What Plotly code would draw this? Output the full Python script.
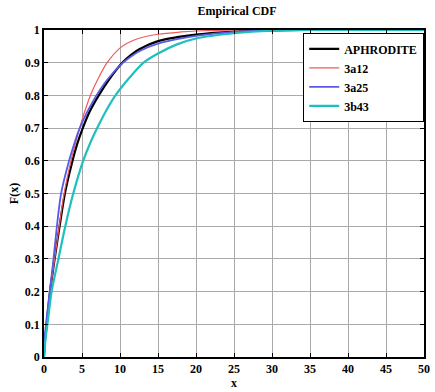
import plotly.graph_objects as go

# Values (x, F(x))
aph_x = [0, 0.12, 0.35, 0.8, 1.4, 2.05, 2.75, 3.75, 4.35, 5.1, 6.0, 7.2, 8.6, 10.3, 11.5, 12.6, 15, 17.5, 20, 25, 30, 35, 50]
aph_f = [0.0, 0.05, 0.10, 0.20, 0.30, 0.40, 0.50, 0.60, 0.65, 0.70, 0.75, 0.80, 0.85, 0.90, 0.925, 0.942, 0.966, 0.978, 0.986, 0.995, 0.999, 1.0, 1.0]

a12_x = [0, 0.12, 0.35, 0.8, 1.4, 2.0, 2.65, 3.55, 4.1, 4.7, 5.35, 6.1, 7.1, 8.3, 9.9, 11.0, 12.4, 15, 18, 20, 26, 50]
a12_f = [0.0, 0.05, 0.10, 0.20, 0.30, 0.40, 0.50, 0.60, 0.65, 0.70, 0.75, 0.80, 0.85, 0.90, 0.943, 0.960, 0.974, 0.987, 0.994, 0.997, 1.0, 1.0]

a25_x = [0, 0.08, 0.26, 0.75, 1.25, 1.7, 2.25, 3.3, 3.95, 4.7, 5.7, 6.9, 8.4, 10.4, 11.5, 12.6, 15, 17.5, 20, 25, 30, 35, 50]
a25_f = [0.0, 0.05, 0.10, 0.20, 0.30, 0.40, 0.50, 0.60, 0.65, 0.70, 0.75, 0.80, 0.85, 0.90, 0.92, 0.936, 0.958, 0.972, 0.982, 0.994, 0.999, 1.0, 1.0]

b43_x = [0, 0.18, 0.45, 1.0, 1.9, 2.8, 3.85, 5.15, 6.0, 7.0, 8.1, 9.4, 11.1, 13.1, 15, 17.5, 20, 25, 30, 35, 50]
b43_f = [0.0, 0.05, 0.10, 0.20, 0.30, 0.40, 0.50, 0.60, 0.65, 0.70, 0.75, 0.80, 0.85, 0.90, 0.928, 0.956, 0.974, 0.99, 0.998, 1.0, 1.0]

x_ticks = [0, 5, 10, 15, 20, 25, 30, 35, 40, 45, 50]
y_ticks = [0, 0.1, 0.2, 0.3, 0.4, 0.5, 0.6, 0.7, 0.8, 0.9, 1]
y_labels = ["0", "0.1", "0.2", "0.3", "0.4", "0.5", "0.6", "0.7", "0.8", "0.9", "1"]

FONT = "Liberation Serif, Times New Roman, serif"

fig = go.Figure()
fig.add_trace(go.Scatter(x=aph_x, y=aph_f, mode="lines", name="APHRODITE",
                         line=dict(color="#000000", width=2.2, shape="spline", smoothing=0.8)))
fig.add_trace(go.Scatter(x=a12_x, y=a12_f, mode="lines", name="3a12",
                         line=dict(color="#f05a5a", width=1.2, shape="spline", smoothing=0.8)))
fig.add_trace(go.Scatter(x=a25_x, y=a25_f, mode="lines", name="3a25",
                         line=dict(color="#5a5ae6", width=1.8, shape="spline", smoothing=0.8)))
fig.add_trace(go.Scatter(x=b43_x, y=b43_f, mode="lines", name="3b43",
                         line=dict(color="#1fbfbf", width=2.2, shape="spline", smoothing=0.8)))

axis_common = dict(
    showline=True, linecolor="black", linewidth=1.5, mirror="ticks",
    showgrid=True, gridcolor="#aaaaaa", gridwidth=1,
    ticks="inside", ticklen=4, tickcolor="black",
    zeroline=False,
    tickfont=dict(family=FONT, size=12, color="black", weight="bold"),
)

fig.update_layout(
    width=435, height=392,
    margin=dict(l=44, r=5, t=30, b=30),
    paper_bgcolor="white", plot_bgcolor="white",
    title=dict(text="Empirical CDF", x=0.545, xanchor="center", y=0.972, yanchor="middle",
               font=dict(family=FONT, size=12, color="black", weight="bold")),
    showlegend=True,
    legend=dict(x=1.0, y=0.99, xanchor="right", yanchor="top",
                bgcolor="white", bordercolor="black", borderwidth=1.2,
                font=dict(family=FONT, size=12, color="black", weight="bold"),
                tracegroupgap=0, itemwidth=30),
    xaxis=dict(range=[0, 50], tickvals=x_ticks,
               title=dict(text="x", standoff=2,
                          font=dict(family=FONT, size=12, color="black", weight="bold")),
               **axis_common),
    yaxis=dict(range=[0, 1], tickvals=y_ticks, ticktext=y_labels,
               title=dict(text="F(x)", standoff=4,
                          font=dict(family=FONT, size=12, color="black", weight="bold")),
               **axis_common),
)

fig.write_html("out.html")
